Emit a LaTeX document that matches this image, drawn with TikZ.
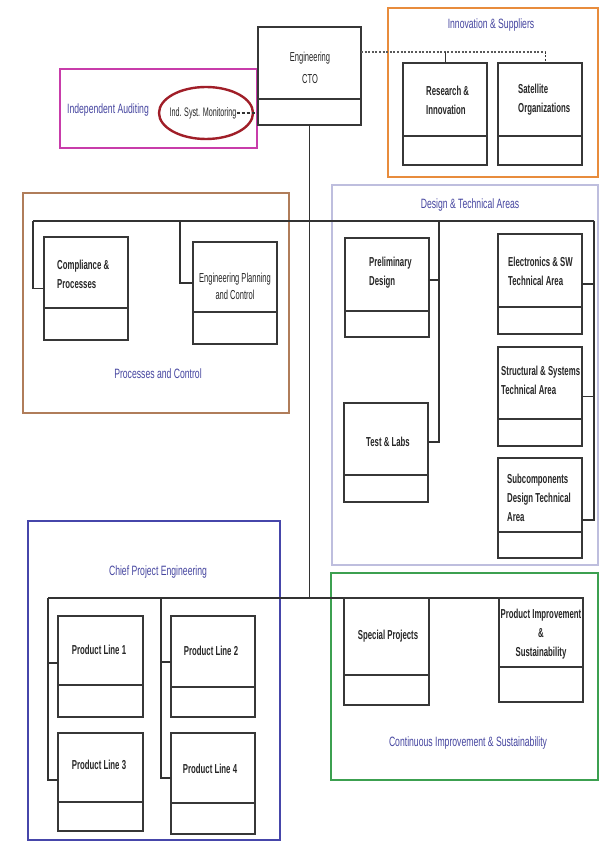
\documentclass[tikz,border=0pt]{standalone}
\usepackage{fontspec}
\setmainfont{Liberation Sans}[FakeStretch=0.6]
\newfontfamily\regfont{Liberation Sans}[FakeStretch=0.58]
\newfontfamily\ttlfont{Liberation Sans}[FakeStretch=0.64]
\usetikzlibrary{shapes.geometric}

\definecolor{innoC}{RGB}{232,140,60}
\definecolor{audC}{RGB}{200,60,170}
\definecolor{procC}{RGB}{176,125,90}
\definecolor{desC}{RGB}{190,190,222}
\definecolor{chiefC}{RGB}{70,70,170}
\definecolor{contC}{RGB}{60,160,80}
\definecolor{ellC}{RGB}{160,30,40}
\definecolor{titleblue}{RGB}{70,70,160}
\definecolor{boxgray}{RGB}{55,55,55}
\definecolor{linegray}{RGB}{50,50,50}

% \placebox{style}{name}{x1}{y1}{x2}{y2}: a node spanning the given corners
\newcommand\placebox[6]{%
  \node[#1, minimum width={#5-#3}, minimum height={#6-#4}] (#2)
    at ({(#3+#5)/2},{(#4+#6)/2}) {};}
% \unitbox{name}{x1}{y1}{x2}{y2}{y of the divider}
\newcommand\unitbox[6]{%
  \placebox{unit}{#1}{#2}{#3}{#4}{#5}
  \draw[divline] (#1.west |- 0,#6) -- (#1.east |- 0,#6);}

\begin{document}
\begin{tikzpicture}[x=1pt,y=-1pt,
  unit/.style={draw=boxgray, line width=1.2pt, fill=white, inner sep=0pt, outer sep=0pt},
  divline/.style={draw=boxgray, line width=1.2pt},
  conn/.style={draw=linegray, line width=1.1pt},
  grp/.style={draw=#1, line width=2.6pt, inner sep=0pt, outer sep=0pt},
  lbl/.style={font=\bfseries\fontsize{13}{19}\selectfont, text=black!85, inner sep=0pt},
  lblr/.style={font=\regfont\fontsize{13}{17}\selectfont, text=black!85, inner sep=0pt},
  ttl/.style={font=\ttlfont\fontsize{13.5}{15}\selectfont, text=titleblue, inner sep=0pt},
]
\useasboundingbox[fill=white] (0,0) rectangle (600,842);

% group frames
\placebox{grp=innoC}{gInno}{388}{8}{598}{177}
\placebox{grp=audC}{gAud}{60}{69}{257}{148}
\placebox{grp=procC}{gProc}{23}{193}{289}{413}
\placebox{grp=desC}{gDes}{332}{185}{598}{565}
\placebox{grp=chiefC}{gChief}{28}{521}{280}{840}
\placebox{grp=contC}{gCont}{331}{573}{598}{780}

% group titles
\node[ttl] (innoT)  at (491,25)  {Innovation \& Suppliers};
\node[ttl] (audT)   at (108,110) {Independent Auditing};
\node[ttl] (procT)  at (158,374) {Processes and Control};
\node[ttl] (desT)   at (470,205) {Design \& Technical Areas};
\node[ttl] (chiefT) at (158,572) {Chief Project Engineering};
\node[ttl] (contT)  at (468,743) {Continuous Improvement \& Sustainability};

% unit boxes
\unitbox{cto}{258}{27}{361}{125}{99}
\unitbox{rsi}{403}{63}{487}{165}{136}
\unitbox{sat}{498}{63}{582}{165}{136}
\unitbox{cmp}{44}{237}{128}{340}{308}
\unitbox{epc}{193}{242}{277}{344}{312}
\unitbox{pd}{345}{238}{429}{337}{311}
\unitbox{tl}{344}{403}{428}{502}{475}
\unitbox{esw}{498}{234}{582}{334}{307}
\unitbox{ssa}{498}{347}{582}{446}{419}
\unitbox{sub}{498}{458}{582}{558}{532}
\unitbox{pl1}{58}{616}{143}{717}{685}
\unitbox{pl2}{171}{616}{255}{717}{687}
\unitbox{pl3}{58}{733}{143}{831}{802}
\unitbox{pl4}{171}{733}{255}{834}{803}

% box labels
\node[lblr, align=center, font=\regfont\fontsize{13}{22}\selectfont] (ctoT) at (310,68) {Engineering\\CTO};
\node[lbl, align=left, anchor=west] (rsiT) at (426,100) {Research \&\\Innovation};
\node[lbl, align=left, anchor=west] (satT) at (518,100) {Satellite\\Organizations};
\node[lbl, align=left, anchor=west] (cmpT) at (57,274.5) {Compliance \&\\Processes};
\node[lblr, align=center] (epcT) at (235,286) {Engineering Planning\\and Control};
\node[lbl, align=left, anchor=west] (pdT) at (369,272.5) {Preliminary\\Design};
\node[lbl] (tlT) at (388,442) {Test \& Labs};
\node[lbl, align=left, anchor=west] (eswT) at (508,271) {Electronics \& SW\\Technical Area};
\node[lbl, align=left, anchor=west] (ssaT) at (501,380) {Structural \& Systems\\Technical Area};
\node[lbl, align=left, anchor=west] (subT) at (507,498) {Subcomponents\\Design Technical\\Area};
\node[lbl] (pl1T) at (99,650) {Product Line 1};
\node[lbl] (pl2T) at (211,651) {Product Line 2};
\node[lbl] (pl3T) at (99,765) {Product Line 3};
\node[lbl] (pl4T) at (210,769) {Product Line 4};

% monitoring ellipse in the auditing group
\node[draw=ellC, line width=2.4pt, ellipse, minimum width=94, minimum height=52, inner sep=0pt] (ell) at (206,113) {};
\node[lblr, font=\regfont\fontsize{12.4}{14}\selectfont] (ismT) at (203,113) {Ind. Syst. Monitoring};
\draw[conn, dash pattern=on 3pt off 2pt] (ismT.east) -- (cto.west |- ismT.east);

% dotted link to innovation & suppliers
\coordinate (dotE) at (545,52);
\draw[conn, line width=1.4pt, dash pattern=on 2pt off 1.6pt, draw=gray!70!black] (cto.east |- dotE) -- (dotE);
\draw[conn, line width=0.9pt] (rsi.north |- dotE) -- (rsi.north);
\draw[conn, line width=0.9pt, dash pattern=on 2pt off 1.5pt] (dotE) -- (sat.north -| dotE);

% processes & design bus
\coordinate (busW) at (33,221);
\coordinate (busE) at (594,221);
\coordinate (tapEPC) at (180,221);
\coordinate (tapPD) at (439,221);
\draw[conn] (busW) -- (busE);
\draw[conn] (busW) |- (cmp.west);
\draw[conn] (tapEPC) |- ([yshift=10pt]epc.west);
\draw[conn] (tapPD) |- ([yshift=7.5pt]pd.east);
\draw[conn] (tapPD) |- ([yshift=10.5pt]tl.east);
\draw[conn] (busE) |- (esw.east);
\draw[conn] (busE) |- (ssa.east);
\draw[conn] (busE) |- ([yshift=-12pt]sub.east);

% project & improvement bus
\coordinate (busSW) at (48,598);
\coordinate (busSE) at (584,598);
\coordinate (tapPL) at (161,598);
\draw[conn] (busSW) -- (busSE);
\draw[conn] (busSW) |- ([yshift=3.5pt]pl1.west);
\draw[conn] (busSW) |- ([yshift=2pt]pl3.west);
\draw[conn] (tapPL) |- ([yshift=4.5pt]pl2.west);
\draw[conn] (tapPL) |- ([yshift=5.5pt]pl4.west);

% trunk from the CTO
\draw[conn] (cto.south) -- (cto.south |- busSW);

% improvement boxes sit on the bus
\unitbox{spj}{344}{598}{429}{705}{675}
\unitbox{pis}{499}{598}{583}{702}{667}
\node[lbl] (spjT) at (388,636) {Special Projects};
\node[lbl, align=center] (pisT) at (541,634) {Product Improvement\\\&\\Sustainability};
\end{tikzpicture}
\end{document}
